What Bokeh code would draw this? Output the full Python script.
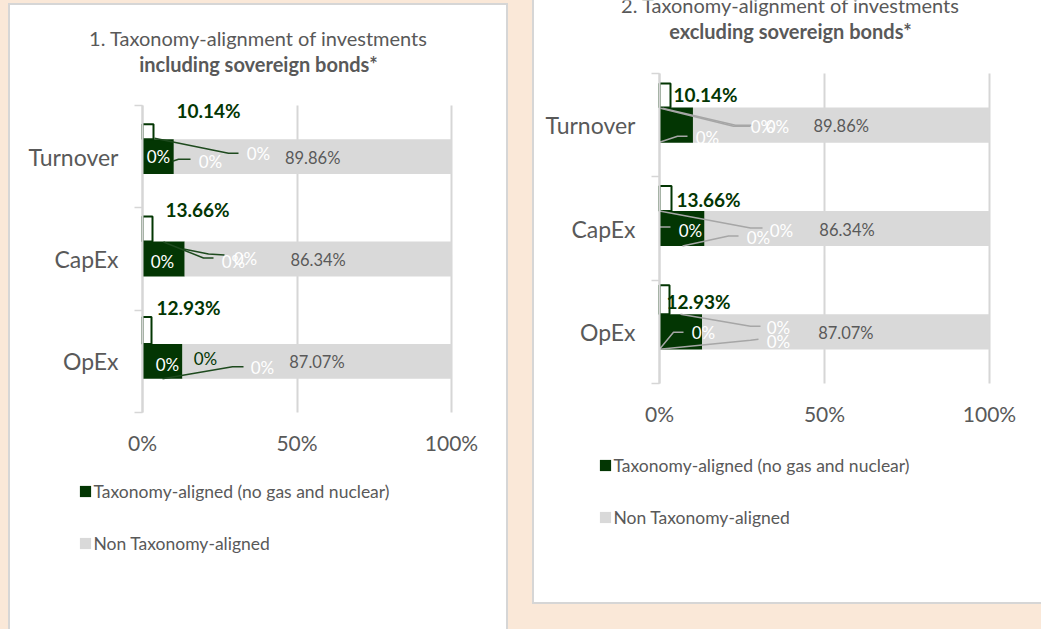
from bokeh.plotting import figure
from bokeh.models import (ColumnDataSource, Range1d, FixedTicker, LabelSet, Label,
                          Legend, LegendItem, Spacer, GlobalInlineStyleSheet)
from bokeh.layouts import row, column
from bokeh.core.properties import value
from bokeh.embed import file_html
from bokeh.resources import INLINE

# ---------------- data ----------------
categories = ["OpEx", "CapEx", "Turnover"]          # bottom -> top
aligned_incl = [12.93, 13.66, 10.14]                # Taxonomy-aligned (no gas and nuclear)
non_aligned_incl = [87.07, 86.34, 89.86]            # Non Taxonomy-aligned
aligned_excl = [12.93, 13.66, 10.14]
non_aligned_excl = [87.07, 86.34, 89.86]
fossil_gas = [0, 0, 0]
nuclear = [0, 0, 0]
other_zero = [0, 0, 0]
x_ticks = [0, 50, 100]
x_tick_labels = ["0%", "50%", "100%"]
titles_incl = ["1. Taxonomy-alignment of investments", "including sovereign bonds*"]
titles_excl = ["2. Taxonomy-alignment of investments", "excluding sovereign bonds*"]
legend_labels = ["Taxonomy-aligned (no gas and nuclear)", "Non Taxonomy-aligned"]

# ---------------- style ----------------
FONT = "Lato"
GREEN = "#033603"
GREY_BAR = "#D9D9D9"
TEXT = "#595959"
BEIGE = "#FAE8D8"
BORDER = "#D6D6D6"
MB_LEFT = 10      # room for the y axis panel
MB_BOTTOM = 60    # room for the x axis panel

# geometry + label / leader layout (pixel offsets from the 0% line and category centre)
LEFT_LAYOUT = dict(
    fig_w=496, fig_h=624, zx=132, ppx=3.09, ty=100, ppy=307 / 3,
    title_dx=116, title_dy=[68, 42],
    legend_dx=-64.5, legend_dy=79,
    leader_color="#1E4A1E",
    bold=[(46, -53.5), (55, -50), (66, -46.5)],
    zeros=[[(25, 3.5), (63, -2.5), (120, 6.5)],
           [(20, 2), (91, 2), (103, -1)],
           [(16, -0.5), (68, 4.5), (116, -3.5)]],
    zero_colors=[["white", GREEN, "white"], ["white"] * 3, ["white"] * 3],
    leaders=[[[(20, 17.5), (90, 5.5), (101, 5.5)]],
             [[(21, -17), (61, -1), (71, -1)], [(41, -10), (66, -5), (82, -4)]],
             [[(12, -18.5), (86, -3.5), (96, -3.5)], [(30, 4.5), (36, 2.5), (48, 2.5)]]],
    boxes=[(9, 27), (10, 25), (11, 15)],
)
RIGHT_LAYOUT = dict(
    fig_w=507, fig_h=602, zx=125, ppx=3.30, ty=73, ppy=310 / 3,
    title_dx=131, title_dy=[69, 43],
    legend_dx=-61.5, legend_dy=82,
    leader_color="#A6A6A6",
    bold=[(39, -30.5), (49, -29), (46, -31)],
    zeros=[[(44, 0.5), (119, -4.5), (119, 9.5)],
           [(31, 1.5), (99, 8.5), (122, 1.5)],
           [(48, 12), (103, 1), (118, 1)]],
    zero_colors=[["white"] * 3, ["white"] * 3, ["white"] * 3],
    leaders=[[[(21, -17.5), (91, -5.5), (101, -5.5)], [(0, 17.5), (14, 0.5), (24, 0.5)],
              [(0, 17.5), (91, 8.5), (99, 7.5)]],
             [[(0, -17.5), (91, -0.5), (103, -0.5)], [(0, -1.5), (11, -1.5)],
              [(23, 17.5), (69, 7.5), (79, 7.5)]],
             [[(1, -17), (74, 1), (91, 1)], [(3, -17), (76, 0), (93, 0)],
              [(0, 17), (18, 11), (28, 11)]]],
    boxes=[(10, 29), (12, 25), (11, 24)],
)


def make_panel(aligned, non_aligned, titles, L):
    ppx, ppy, zx, ty = L["ppx"], L["ppy"], L["zx"], L["ty"]
    n = len(categories)
    frame_bottom = L["fig_h"] - MB_BOTTOM
    ys = [i + 0.5 for i in range(n)]
    totals = [a + b for a, b in zip(aligned, non_aligned)]
    bar_h = 0.34

    x_range = Range1d((MB_LEFT - zx) / ppx, (L["fig_w"] - zx) / ppx)
    y_range = Range1d(n - (frame_bottom - ty) / ppy, n + ty / ppy)
    p = figure(width=L["fig_w"], height=L["fig_h"], x_range=x_range, y_range=y_range,
               output_backend="svg", toolbar_location=None, title=None,
               min_border_left=MB_LEFT, min_border_top=0, min_border_right=0,
               min_border_bottom=MB_BOTTOM, styles={"background-color": "white"})
    p.background_fill_color = None
    p.border_fill_color = None
    p.outline_line_color = None

    src = ColumnDataSource(dict(y=ys, cat=categories, aligned=aligned, total=totals,
                                non=non_aligned))
    # grid lines limited to the category band
    p.xgrid.ticker = FixedTicker(ticks=x_ticks)
    p.xgrid.grid_line_color = BORDER
    p.xgrid.grid_line_width = 2
    p.xgrid.cross_bounds = (0, n)
    p.ygrid.grid_line_color = None

    r_al = p.hbar(y="y", left=0, right="aligned", height=bar_h, source=src,
                  fill_color=GREEN, line_color=None)
    r_non = p.hbar(y="y", left="aligned", right="total", height=bar_h, source=src,
                   fill_color=GREY_BAR, line_color=None)

    # x axis (fixed at y = 0)
    xa = p.xaxis[0]
    xa.fixed_location = 0
    xa.bounds = (0, 100)
    xa.ticker = FixedTicker(ticks=x_ticks)
    xa.major_label_overrides = {t: s for t, s in zip(x_ticks, x_tick_labels)}
    xa.axis_line_color = None
    xa.major_tick_line_color = None
    xa.minor_tick_line_color = None
    xa.major_tick_out = 0
    xa.major_label_text_font = FONT
    xa.major_label_text_font_size = "21px"
    xa.major_label_text_color = TEXT
    xa.major_label_standoff = 17

    # y axis (fixed at x = 0): line + category boundary ticks
    ya = p.yaxis[0]
    ya.fixed_location = 0
    ya.bounds = (0, n)
    ya.ticker = FixedTicker(ticks=[], minor_ticks=list(range(n + 1)))
    ya.axis_line_color = BORDER
    ya.axis_line_width = 2
    ya.major_tick_line_color = None
    ya.major_tick_out = 0
    ya.major_tick_in = 0
    ya.major_label_standoff = 0
    ya.minor_tick_line_color = BORDER
    ya.minor_tick_line_width = 1.5
    ya.minor_tick_out = 8
    ya.minor_tick_in = 0

    # category labels
    p.add_layout(LabelSet(x=0, y="y", text="cat", source=src, x_offset=-24,
                          text_font=value(FONT), text_font_size="23px", text_color=TEXT,
                          text_align="right", text_baseline="middle"))

    # small outlined callout boxes above the bars
    bx = dict(left=[0] * n, right=[w / ppx for w, h in L["boxes"]],
              bottom=[y + bar_h / 2 for y in ys],
              top=[y + bar_h / 2 + h / ppy for y, (w, h) in zip(ys, L["boxes"])])
    p.quad(source=ColumnDataSource(bx), left="left", right="right", bottom="bottom",
           top="top", fill_color=None, line_color=GREEN, line_width=2)

    # leader lines
    lx, ly = [], []
    for y, lines in zip(ys, L["leaders"]):
        for ln in lines:
            lx.append([dx / ppx for dx, dy in ln])
            ly.append([y - dy / ppy for dx, dy in ln])
    p.multi_line(xs=lx, ys=ly, line_color=L["leader_color"], line_width=1.5)

    # bold aligned-value labels
    bsrc = ColumnDataSource(dict(
        x=[dx / ppx for dx, dy in L["bold"]],
        y=[y - dy / ppy for y, (dx, dy) in zip(ys, L["bold"])],
        t=[f"{v:.2f}%" for v in aligned]))
    p.add_layout(LabelSet(x="x", y="y", text="t", source=bsrc, text_font=value(FONT),
                          text_font_style="bold", text_font_size="19px", text_color=GREEN,
                          text_align="center", text_baseline="middle"))

    # non-aligned labels (centre of grey segment)
    gsrc = ColumnDataSource(dict(x=[(a + t) / 2 for a, t in zip(aligned, totals)],
                                 y=[y - 1 / ppy for y in ys],
                                 t=[f"{v:.2f}%" for v in non_aligned]))
    p.add_layout(LabelSet(x="x", y="y", text="t", source=gsrc, text_font=value(FONT),
                          text_font_size="16.5px", text_color=TEXT,
                          text_align="center", text_baseline="middle"))

    # zero-valued series labels
    zx_, zy_, zt, zc = [], [], [], []
    zero_series = [fossil_gas, nuclear, other_zero]
    for i, y in enumerate(ys):
        for k, (dx, dy) in enumerate(L["zeros"][i]):
            zx_.append(dx / ppx)
            zy_.append(y - dy / ppy)
            zt.append(f"{zero_series[k][i]:.0f}%")
            zc.append(L["zero_colors"][i][k])
    zsrc = ColumnDataSource(dict(x=zx_, y=zy_, t=zt, c=zc))
    p.add_layout(LabelSet(x="x", y="y", text="t", source=zsrc, text_font=value(FONT),
                          text_font_size="17px", text_color="c",
                          text_align="center", text_baseline="middle"))

    # two-line title
    for txt, dy, style in zip(titles, L["title_dy"], ["normal", "bold"]):
        p.add_layout(Label(x=L["title_dx"] / ppx, y=n + dy / ppy, text=txt,
                           text_font=FONT, text_font_style=style, text_font_size="20px",
                           text_color=TEXT, text_align="center", text_baseline="middle"))

    # legend (below the chart, inside the white panel)
    item_h, spacing = 22, 30
    leg_h = 2 * item_h + spacing
    leg_top = ty + n * ppy + L["legend_dy"] - item_h / 2
    loc = (zx + L["legend_dx"] - MB_LEFT, frame_bottom - (leg_top + leg_h))
    legend = Legend(items=[LegendItem(label=legend_labels[0], renderers=[r_al]),
                           LegendItem(label=legend_labels[1], renderers=[r_non])],
                    location=loc, orientation="vertical",
                    glyph_width=14, glyph_height=14, label_height=item_h, spacing=spacing,
                    padding=0, margin=0, label_standoff=2,
                    border_line_color=None, background_fill_alpha=0,
                    label_text_font=FONT, label_text_font_size="17.5px",
                    label_text_color=TEXT)
    p.add_layout(legend)
    return p


p_left = make_panel(aligned_incl, non_aligned_incl, titles_incl, LEFT_LAYOUT)
p_right = make_panel(aligned_excl, non_aligned_excl, titles_excl, RIGHT_LAYOUT)

gray = {"background-color": BORDER}
left_block = column(
    Spacer(width=500, height=3),
    Spacer(width=500, height=2, styles=gray),
    row(Spacer(width=2, height=624, styles=gray), p_left,
        Spacer(width=2, height=624, styles=gray)),
)
right_block = column(
    row(Spacer(width=2, height=602, styles=gray), p_right),
    Spacer(width=509, height=2, styles=gray),
    Spacer(width=509, height=25),
)
layout = row(
    Spacer(width=8, height=629),
    left_block,
    Spacer(width=24, height=629),
    right_block,
    styles={"background-color": BEIGE},
    stylesheets=[GlobalInlineStyleSheet(css=f"body {{ background-color: {BEIGE}; }}")],
)

open("out.html", "w").write(file_html(layout, INLINE))
